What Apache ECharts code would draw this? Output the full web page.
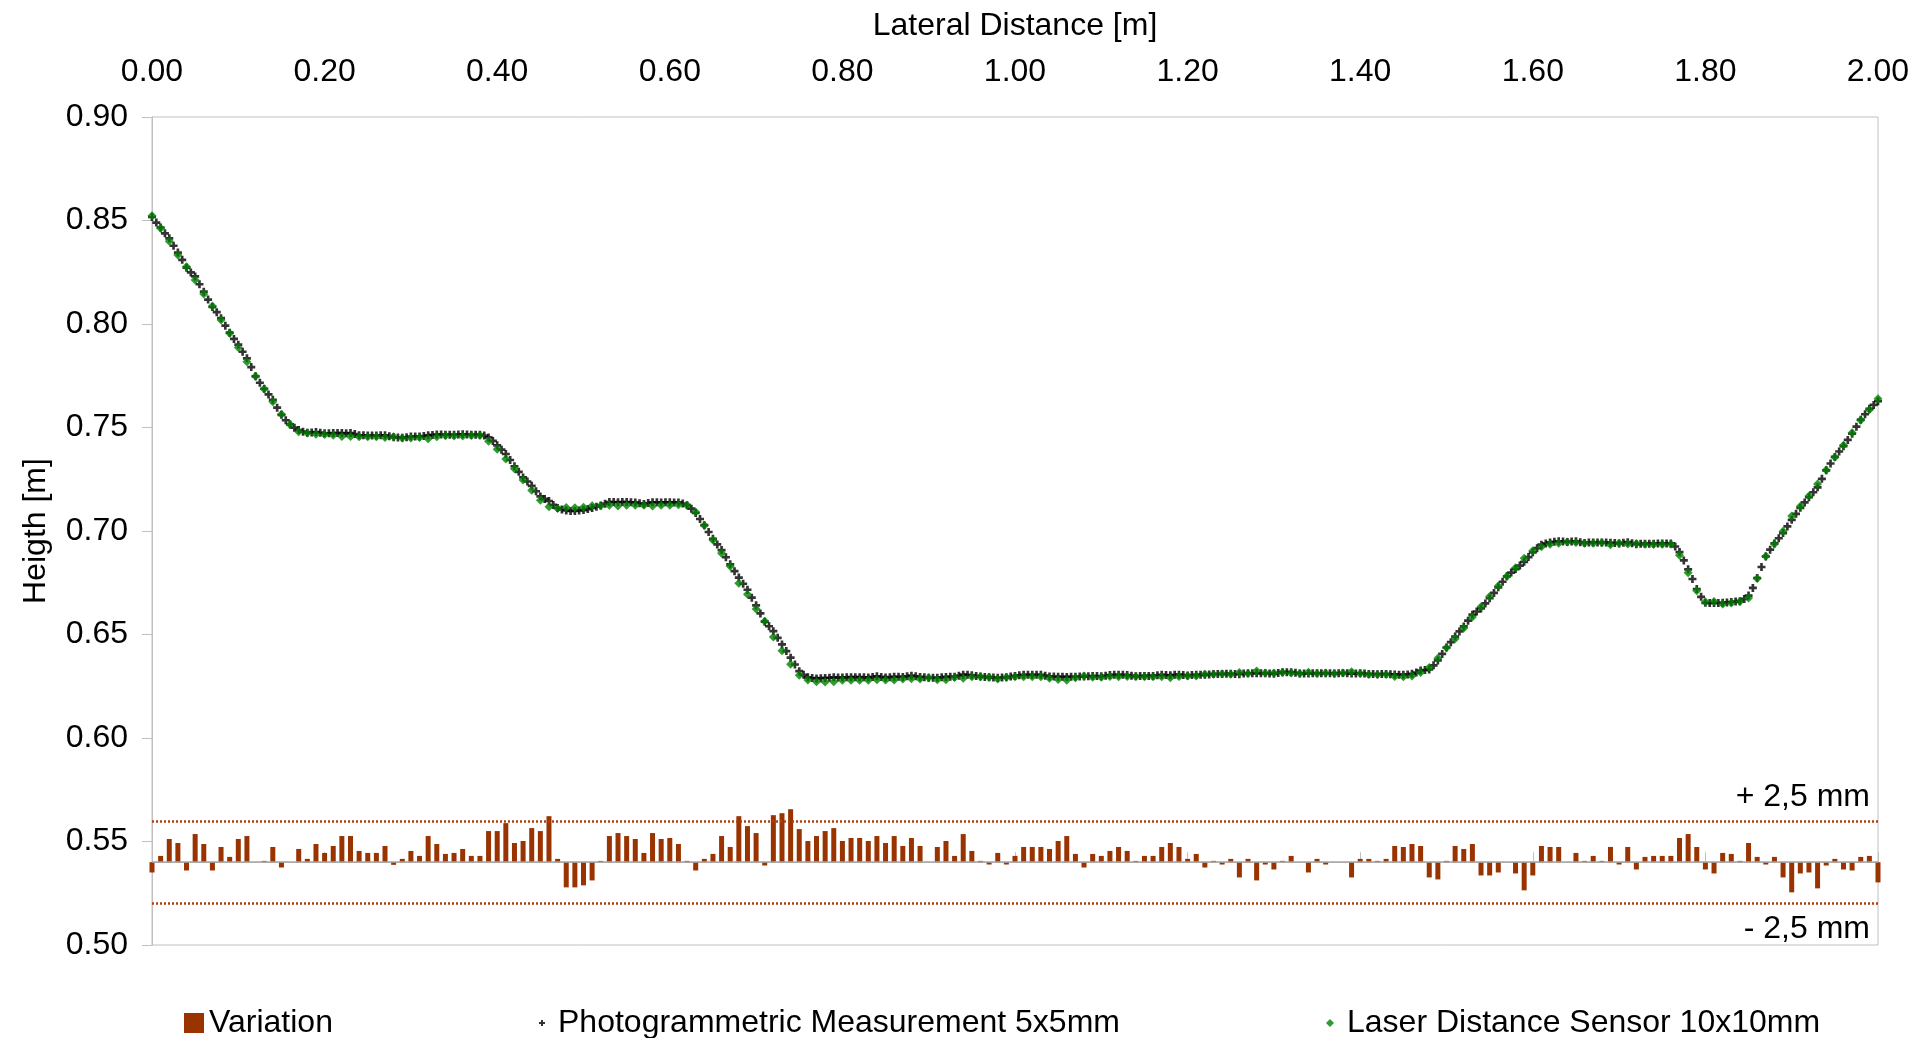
<!DOCTYPE html>
<html>
<head>
<meta charset="utf-8">
<title>Lateral height profile</title>
<script src="https://cdn.jsdelivr.net/npm/echarts@6/dist/echarts.min.js"></script>
<style>
  html, body { margin: 0; padding: 0; background: #fff; }
  #main { width: 1917px; height: 1038px; }
</style>
</head>
<body>
<div id="main"></div>
<script>
// Sampling steps along the lateral distance [m]
const LASER_STEP = 0.01;
const PHOTO_STEP = 0.005;

// Laser distance sensor heights [m], one every 10 mm from 0.00 to 2.00 m
const laserHeight = [
  0.8523, 0.8462, 0.8400, 0.8333, 0.8277, 0.8213, 0.8145, 0.8087, 0.8019, 0.7955,
  0.7886, 0.7818, 0.7747, 0.7686, 0.7625, 0.7564, 0.7515, 0.7480, 0.7473, 0.7467,
  0.7466, 0.7463, 0.7457, 0.7457, 0.7455, 0.7455, 0.7455, 0.7452, 0.7455, 0.7449,
  0.7449, 0.7452, 0.7446, 0.7455, 0.7460, 0.7459, 0.7459, 0.7461, 0.7461, 0.7433,
  0.7395, 0.7348, 0.7301, 0.7246, 0.7197, 0.7148, 0.7117, 0.7109, 0.7114, 0.7112,
  0.7115, 0.7122, 0.7122, 0.7124, 0.7121, 0.7124, 0.7124, 0.7124, 0.7121, 0.7124,
  0.7124, 0.7127, 0.7124, 0.7092, 0.7026, 0.6957, 0.6892, 0.6830, 0.6747, 0.6694,
  0.6623, 0.6564, 0.6488, 0.6422, 0.6356, 0.6303, 0.6280, 0.6272, 0.6271, 0.6272,
  0.6279, 0.6279, 0.6279, 0.6279, 0.6282, 0.6280, 0.6280, 0.6285, 0.6286, 0.6285,
  0.6291, 0.6282, 0.6282, 0.6292, 0.6289, 0.6296, 0.6296, 0.6294, 0.6285, 0.6294,
  0.6296, 0.6296, 0.6296, 0.6296, 0.6289, 0.6283, 0.6279, 0.6291, 0.6300, 0.6294,
  0.6294, 0.6297, 0.6296, 0.6297, 0.6297, 0.6296, 0.6296, 0.6296, 0.6291, 0.6297,
  0.6300, 0.6300, 0.6308, 0.6308, 0.6310, 0.6308, 0.6317, 0.6311, 0.6324, 0.6314,
  0.6314, 0.6317, 0.6314, 0.6312, 0.6318, 0.6311, 0.6314, 0.6312, 0.6314, 0.6320,
  0.6311, 0.6307, 0.6307, 0.6307, 0.6297, 0.6296, 0.6299, 0.6316, 0.6340, 0.6385,
  0.6436, 0.6480, 0.6531, 0.6585, 0.6634, 0.6683, 0.6734, 0.6781, 0.6823, 0.6868,
  0.6905, 0.6924, 0.6936, 0.6941, 0.6947, 0.6944, 0.6941, 0.6941, 0.6943, 0.6934,
  0.6941, 0.6937, 0.6940, 0.6936, 0.6935, 0.6936, 0.6936, 0.6883, 0.6798, 0.6711,
  0.6657, 0.6659, 0.6647, 0.6652, 0.6660, 0.6676, 0.6770, 0.6878, 0.6937, 0.6999,
  0.7072, 0.7119, 0.7169, 0.7227, 0.7295, 0.7356, 0.7414, 0.7475, 0.7535, 0.7586,
  0.7639
];

// Photogrammetric heights [m], one every 5 mm from 0.00 to 2.00 m
const photoHeight = [
  0.8517, 0.8490, 0.8466, 0.8438, 0.8414, 0.8378, 0.8345, 0.8310, 0.8272, 0.8249,
  0.8230, 0.8192, 0.8156, 0.8118, 0.8082, 0.8057, 0.8028, 0.7992, 0.7958, 0.7928,
  0.7900, 0.7866, 0.7834, 0.7792, 0.7747, 0.7716, 0.7687, 0.7660, 0.7634, 0.7596,
  0.7561, 0.7535, 0.7515, 0.7499, 0.7488, 0.7480, 0.7475, 0.7476, 0.7478, 0.7475,
  0.7472, 0.7472, 0.7473, 0.7473, 0.7473, 0.7472, 0.7473, 0.7468, 0.7462, 0.7462,
  0.7461, 0.7461, 0.7461, 0.7462, 0.7462, 0.7458, 0.7453, 0.7452, 0.7451, 0.7453,
  0.7456, 0.7456, 0.7456, 0.7459, 0.7462, 0.7464, 0.7466, 0.7466, 0.7465, 0.7465,
  0.7465, 0.7466, 0.7467, 0.7466, 0.7465, 0.7465, 0.7465, 0.7461, 0.7452, 0.7435,
  0.7414, 0.7393, 0.7372, 0.7343, 0.7313, 0.7286, 0.7259, 0.7239, 0.7218, 0.7192,
  0.7167, 0.7155, 0.7145, 0.7126, 0.7111, 0.7104, 0.7099, 0.7097, 0.7097, 0.7099,
  0.7101, 0.7106, 0.7111, 0.7117, 0.7123, 0.7132, 0.7140, 0.7140, 0.7139, 0.7140,
  0.7140, 0.7139, 0.7138, 0.7134, 0.7130, 0.7135, 0.7139, 0.7139, 0.7138, 0.7139,
  0.7139, 0.7138, 0.7138, 0.7133, 0.7125, 0.7108, 0.7087, 0.7058, 0.7028, 0.6995,
  0.6962, 0.6935, 0.6908, 0.6873, 0.6839, 0.6806, 0.6775, 0.6745, 0.6716, 0.6678,
  0.6641, 0.6602, 0.6562, 0.6540, 0.6516, 0.6484, 0.6452, 0.6420, 0.6388, 0.6355,
  0.6323, 0.6305, 0.6293, 0.6290, 0.6288, 0.6289, 0.6290, 0.6291, 0.6293, 0.6292,
  0.6292, 0.6293, 0.6294, 0.6294, 0.6294, 0.6293, 0.6292, 0.6295, 0.6298, 0.6295,
  0.6292, 0.6294, 0.6296, 0.6296, 0.6295, 0.6298, 0.6301, 0.6298, 0.6295, 0.6293,
  0.6291, 0.6291, 0.6291, 0.6293, 0.6295, 0.6296, 0.6296, 0.6301, 0.6306, 0.6305,
  0.6303, 0.6300, 0.6297, 0.6295, 0.6293, 0.6292, 0.6291, 0.6292, 0.6293, 0.6297,
  0.6300, 0.6303, 0.6305, 0.6305, 0.6305, 0.6305, 0.6305, 0.6301, 0.6297, 0.6297,
  0.6296, 0.6296, 0.6295, 0.6296, 0.6296, 0.6297, 0.6297, 0.6298, 0.6299, 0.6299,
  0.6298, 0.6301, 0.6304, 0.6305, 0.6305, 0.6305, 0.6304, 0.6301, 0.6298, 0.6299,
  0.6300, 0.6300, 0.6300, 0.6303, 0.6305, 0.6304, 0.6303, 0.6305, 0.6306, 0.6304,
  0.6302, 0.6304, 0.6305, 0.6305, 0.6305, 0.6307, 0.6309, 0.6309, 0.6309, 0.6310,
  0.6310, 0.6309, 0.6308, 0.6311, 0.6313, 0.6313, 0.6313, 0.6313, 0.6313, 0.6312,
  0.6310, 0.6314, 0.6318, 0.6318, 0.6318, 0.6315, 0.6312, 0.6312, 0.6312, 0.6313,
  0.6313, 0.6313, 0.6313, 0.6313, 0.6312, 0.6313, 0.6314, 0.6313, 0.6311, 0.6312,
  0.6313, 0.6311, 0.6309, 0.6309, 0.6308, 0.6309, 0.6309, 0.6308, 0.6307, 0.6306,
  0.6305, 0.6307, 0.6310, 0.6316, 0.6326, 0.6328, 0.6331, 0.6351, 0.6375, 0.6406,
  0.6437, 0.6463, 0.6490, 0.6515, 0.6539, 0.6567, 0.6596, 0.6611, 0.6626, 0.6650,
  0.6675, 0.6701, 0.6728, 0.6755, 0.6781, 0.6799, 0.6816, 0.6833, 0.6851, 0.6874,
  0.6897, 0.6917, 0.6934, 0.6940, 0.6945, 0.6948, 0.6950, 0.6949, 0.6947, 0.6949,
  0.6950, 0.6946, 0.6942, 0.6944, 0.6945, 0.6945, 0.6944, 0.6944, 0.6943, 0.6942,
  0.6940, 0.6943, 0.6946, 0.6941, 0.6936, 0.6938, 0.6939, 0.6939, 0.6939, 0.6940,
  0.6940, 0.6940, 0.6940, 0.6925, 0.6898, 0.6858, 0.6815, 0.6768, 0.6720, 0.6682,
  0.6653, 0.6652, 0.6652, 0.6652, 0.6653, 0.6655, 0.6657, 0.6659, 0.6661, 0.6672,
  0.6688, 0.6725, 0.6773, 0.6826, 0.6877, 0.6910, 0.6940, 0.6965, 0.6990, 0.7022,
  0.7054, 0.7083, 0.7112, 0.7138, 0.7163, 0.7187, 0.7211, 0.7252, 0.7293, 0.7326,
  0.7358, 0.7384, 0.7410, 0.7440, 0.7470, 0.7504, 0.7538, 0.7564, 0.7590, 0.7609,
  0.7627
];

// Height difference photogrammetry - laser [mm], one every 10 mm
const variationMm = [
  -0.62, 0.38, 1.40, 1.16, -0.50, 1.70, 1.10, -0.50, 0.92, 0.32,
  1.40, 1.58, 0, 0.08, 0.92, -0.32, 0, 0.80, 0.20, 1.10,
  0.56, 0.98, 1.58, 1.58, 0.68, 0.56, 0.56, 0.98, -0.16, 0.20,
  0.68, 0.38, 1.58, 1.10, 0.50, 0.56, 0.80, 0.38, 0.38, 1.88,
  1.88, 2.36, 1.16, 1.28, 2.06, 1.88, 2.78, 0.20, -1.52, -1.52,
  -1.40, -1.10, 0.08, 1.58, 1.76, 1.58, 1.40, 0.56, 1.76, 1.40,
  1.46, 1.10, 0.08, -0.50, 0.20, 0.50, 1.58, 0.92, 2.78, 2.18,
  1.76, -0.20, 2.84, 2.96, 3.20, 2.00, 1.28, 1.58, 1.88, 2.06,
  1.28, 1.46, 1.46, 1.28, 1.58, 1.16, 1.58, 0.98, 1.46, 0.98,
  0, 0.92, 1.28, 0.38, 1.70, 0.68, 0.08, -0.14, 0.56, -0.14,
  0.38, 0.92, 0.92, 0.92, 0.80, 1.28, 1.58, 0.50, -0.32, 0.50,
  0.38, 0.68, 0.92, 0.68, 0.08, 0.38, 0.38, 0.92, 1.16, 0.92,
  0.20, 0.50, -0.32, 0.08, -0.14, 0.20, -0.92, 0.20, -1.10, -0.14,
  -0.44, 0.08, 0.38, 0, -0.62, 0.20, -0.14, 0, 0, -0.92,
  0.20, 0.20, 0.08, 0.20, 0.98, 0.92, 1.10, 0.98, -0.92, -1.04,
  0.08, 0.98, 0.80, 1.10, -0.80, -0.80, -0.62, 0, -0.68, -1.70,
  -0.80, 0.98, 0.92, 0.92, 0, 0.56, 0.08, 0.38, 0.08, 0.92,
  -0.14, 0.92, -0.44, 0.32, 0.38, 0.38, 0.38, 1.46, 1.70, 0.92,
  -0.44, -0.68, 0.56, 0.50, 0.08, 1.16, 0.32, -0.14, 0.32, -0.92,
  -1.82, -0.68, -0.62, -1.58, -0.20, 0.20, -0.44, -0.50, 0.32, 0.38,
  -1.22
];

// Tolerance band drawn around the variation bars [mm]
const toleranceMm = 2.5;
const toleranceLabels = ['+ 2,5 mm', '- 2,5 mm'];

// Axis ranges: distance [m], height [m], and the variation scale [mm]
const distanceAxis = { min: 0, max: 2, interval: 0.2 };
const heightAxis = { min: 0.5, max: 0.9, interval: 0.05 };
const variationAxis = { min: -5, max: 45 };

const seriesNames = ['Variation', 'Photogrammetric Measurement 5x5mm', 'Laser Distance Sensor 10x10mm'];
const axisNames = { x: 'Lateral Distance [m]', y: 'Heigth [m]' };

const FONT = '"Liberation Sans", Arial, sans-serif';
const FS = 32;
const AXIS_GRAY = '#c0c0c0';
const BAR_COLOR = '#993300';
const PLUS_PATH = 'path://M2,0H4V2H6V4H4V6H2V4H0V2H2Z';

const chart = echarts.init(document.getElementById('main'), null, { renderer: 'canvas' });

const legendText = { fontSize: FS, color: '#000', fontFamily: FONT };

chart.setOption({
  animation: false,
  backgroundColor: '#fff',
  textStyle: { fontFamily: FONT },
  grid: {
    left: 152, right: 39, top: 117, bottom: 93,
    show: true, borderColor: AXIS_GRAY, borderWidth: 1
  },
  legend: [
    {
      data: [{ name: seriesNames[0], icon: 'rect' }],
      left: 184, top: 1007, padding: 0, itemWidth: 20, itemHeight: 20, itemGap: 0,
      textStyle: legendText, selectedMode: false
    },
    {
      data: [{ name: seriesNames[1], icon: PLUS_PATH }],
      left: 539, top: 1007, padding: 0, itemWidth: 6, itemHeight: 6, itemGap: 0,
      textStyle: Object.assign({ padding: [0, 0, 0, 8] }, legendText), selectedMode: false
    },
    {
      data: [{ name: seriesNames[2], icon: 'diamond' }],
      left: 1326, top: 1007, padding: 0, itemWidth: 8, itemHeight: 8, itemGap: 0,
      textStyle: Object.assign({ padding: [0, 0, 0, 8] }, legendText), selectedMode: false
    }
  ],
  xAxis: [{
    type: 'value', position: 'top',
    min: distanceAxis.min, max: distanceAxis.max, interval: distanceAxis.interval,
    name: axisNames.x, nameLocation: 'middle', nameGap: 75,
    nameTextStyle: { fontSize: FS, color: '#000' },
    axisLine: { show: true, lineStyle: { color: AXIS_GRAY, width: 1 } },
    axisTick: { show: true, inside: false, length: 10, lineStyle: { color: AXIS_GRAY } },
    axisLabel: { fontSize: FS, color: '#000', margin: 29, formatter: v => v.toFixed(2) },
    splitLine: { show: false }
  }],
  yAxis: [{
    type: 'value',
    min: heightAxis.min, max: heightAxis.max, interval: heightAxis.interval,
    name: axisNames.y, nameLocation: 'middle', nameGap: 100, nameRotate: 90,
    nameTextStyle: { fontSize: FS, color: '#000' },
    axisLine: { show: true, lineStyle: { color: AXIS_GRAY, width: 1 } },
    axisTick: { show: true, inside: false, length: 10, lineStyle: { color: AXIS_GRAY } },
    axisLabel: { fontSize: FS, color: '#000', margin: 24, formatter: v => v.toFixed(2) },
    splitLine: { show: false }
  }, {
    type: 'value', show: false,
    min: variationAxis.min, max: variationAxis.max,
    splitLine: { show: false }
  }],
  series: [
    {
      name: seriesNames[0],
      type: 'bar',
      xAxisIndex: 0, yAxisIndex: 1,
      barWidth: 5,
      itemStyle: { color: BAR_COLOR },
      data: variationMm.map((v, i) => [i * LASER_STEP, v]),
      markLine: {
        silent: true, symbol: 'none', animation: false,
        data: [
          { yAxis: 0, lineStyle: { type: 'solid', color: '#a6a6a6', width: 1.5 }, label: { show: false } },
          {
            yAxis: toleranceMm,
            lineStyle: { type: [2, 2], color: '#b0410f', width: 2.5 },
            label: { show: true, position: 'insideEndTop', distance: [8, 8], formatter: toleranceLabels[0],
                     fontSize: FS, color: '#000', fontFamily: FONT }
          },
          {
            yAxis: -toleranceMm,
            lineStyle: { type: [2, 2], color: '#b0410f', width: 2.5 },
            label: { show: true, position: 'insideEndBottom', distance: [8, 10], formatter: toleranceLabels[1],
                     fontSize: FS, color: '#000', fontFamily: FONT }
          }
        ]
      }
    },
    {
      name: seriesNames[1],
      type: 'scatter',
      symbol: PLUS_PATH, symbolSize: 8,
      itemStyle: { color: '#000' },
      data: photoHeight.map((v, i) => [i * PHOTO_STEP, v])
    },
    {
      name: seriesNames[2],
      type: 'scatter',
      symbol: 'diamond', symbolSize: 9,
      itemStyle: { color: '#008000' },
      data: laserHeight.map((v, i) => [i * LASER_STEP, v])
    }
  ]
});
</script>
</body>
</html>
